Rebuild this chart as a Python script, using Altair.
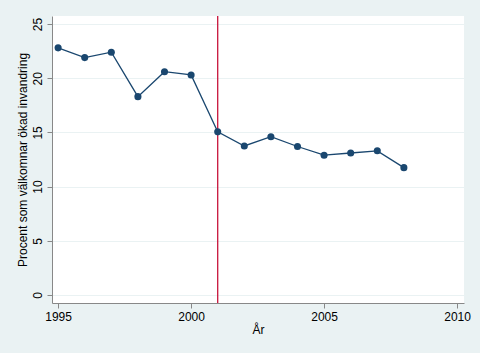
import altair as alt
import pandas as pd

years = [1995, 1996, 1997, 1998, 1999, 2000, 2001, 2002, 2003, 2004, 2005, 2006, 2007, 2008]
values = [22.8, 21.9, 22.4, 18.3, 20.6, 20.3, 15.05, 13.75, 14.6, 13.7, 12.9, 13.1, 13.3, 11.75]
event_year = [2001]
x_ticks = [1995, 2000, 2005, 2010]
y_ticks = [0, 5, 10, 15, 20, 25]

df = pd.DataFrame({"year": years, "value": values})
ev = pd.DataFrame({"year": event_year})

FONT = "Liberation Sans"
navy = "#1a476f"

xscale = alt.Scale(domain=[1994.77, 2010.26], nice=False, zero=False)
yscale = alt.Scale(domain=[-0.74, 25.74], nice=False, zero=False)

xaxis = alt.Axis(values=x_ticks, format="d", title="År", grid=False,
                 labelFontSize=12, titleFontSize=12, labelFont=FONT, titleFont=FONT,
                 labelColor="#000", titleColor="#000", domainColor="#888", tickColor="#888",
                 tickSize=5, labelPadding=3, titlePadding=2, titleFontWeight="normal",
                 labelFlush=False)
yaxis = alt.Axis(values=y_ticks, title="Procent som välkomnar ökad invandring", grid=True,
                 gridColor="#eaf2f3", gridWidth=1.2,
                 labelFontSize=12, titleFontSize=12, labelFont=FONT, titleFont=FONT,
                 labelColor="#000", titleColor="#000", domainColor="#888", tickColor="#888",
                 tickSize=5, labelAngle=270, labelAlign="center", labelBaseline="bottom",
                 labelPadding=3, titlePadding=2, titleFontWeight="normal")

line = alt.Chart(df).mark_line(color=navy, strokeWidth=1.3).encode(
    x=alt.X("year:Q", scale=xscale, axis=xaxis),
    y=alt.Y("value:Q", scale=yscale, axis=yaxis),
)
pts = alt.Chart(df).mark_point(filled=True, color=navy, size=50, opacity=1, shape="circle").encode(
    x=alt.X("year:Q", scale=xscale),
    y=alt.Y("value:Q", scale=yscale),
)
rule = alt.Chart(ev).mark_rule(color="#c8143c", strokeWidth=1.3).encode(
    x=alt.X("year:Q", scale=xscale),
)

chart = alt.layer(rule, line, pts).properties(
    width=412, height=287,
    background="#eaf2f3",
    padding={"left": 52, "top": 16, "right": 16, "bottom": 50},
    autosize=alt.AutoSizeParams(type="none"),
).configure_view(fill="white", stroke=None)

chart.save("out.html", embed_options={"renderer": "svg", "actions": False})
